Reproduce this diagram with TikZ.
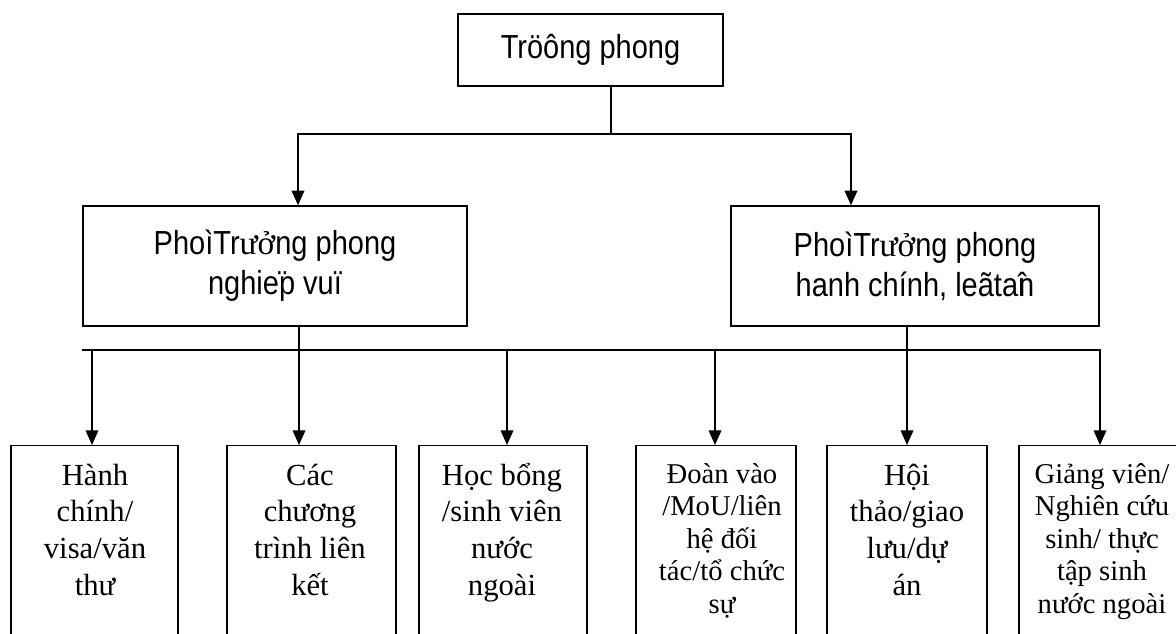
\documentclass[tikz,border=0pt]{standalone}
\usepackage{fontspec}
\setmainfont{Liberation Serif}
\newfontfamily\helv[FakeStretch=0.87]{Liberation Sans}
\usetikzlibrary{arrows.meta}
\begin{document}
\begin{tikzpicture}[x=0.75pt,y=-0.75pt,
  every node/.style={inner sep=0pt},
  ln/.style={line width=1.1pt},
  arr/.style={ln,-{Triangle[width=9.5pt,length=11pt]}},
  bx/.style={draw,line width=1.1pt,align=center,font=\helv\fontsize{25}{30}\selectfont},
  leaf/.style={draw,line width=1.1pt,anchor=north,minimum height=200pt},
  ltext/.style={anchor=base,font=\fontsize{23}{27.5}\selectfont},
  ltextsmall/.style={anchor=base,font=\fontsize{21.5}{24.4}\selectfont}]

\clip (0,0) rectangle (1176,633);

% top and middle boxes
\node[bx,minimum width=198.75pt,minimum height=54pt] (top) at (590.5,50) {Tröông phong};
\node[bx,minimum width=288pt,minimum height=90pt] (m1) at (275,266)
  {PhoìTr{\rmfamily ưở}ng phong\\nghie\rlap{\kern-1pt ¨}p vuï};
\node[bx,minimum width=276pt,minimum height=90pt] (m2) at (915,266)
  {PhoìTr{\rmfamily ưở}ng phong\\hanh chính, leãta\rlap{î}n};

% leaf boxes
\node[leaf,minimum width=125.25pt] (b1) at (94.5,445) {};
\node[leaf,minimum width=126.75pt] (b2) at (311.5,445) {};
\node[leaf,minimum width=126pt] (b3) at (503,445) {};
\node[leaf,minimum width=120pt] (b4) at (716,445) {};
\node[leaf,minimum width=120pt] (b5) at (907,445) {};
\node[leaf,minimum width=121.5pt] (b6) at (1100,445) {};

% leaf texts
\node[ltext] (t1) at (95,485) {\parbox[t]{130pt}{\centering Hành\\chính/\\visa/văn\\thư}};
\node[ltext] (t2) at (310,485) {\parbox[t]{130pt}{\centering Các\\chương\\trình liên\\kết}};
\node[ltext] (t3) at (502,485) {\parbox[t]{130pt}{\centering Học bổng\\/sinh viên\\nước\\ngoài}};
\node[ltextsmall] (t4) at (722,483) {\parbox[t]{130pt}{\centering Đoàn vào\\/MoU/liên\\hệ đối\\tác/tổ chức\\sự}};
\node[ltext] (t5) at (907,485) {\parbox[t]{130pt}{\centering Hội\\thảo/giao\\lưu/dự\\án}};
\node[ltextsmall] (t6) at (1102,483) {\parbox[t]{130pt}{\centering Giảng viên/\\Nghiên cứu\\sinh/ thực\\tập sinh\\nước ngoài}};

% columns
\coordinate (j0) at (611,134);
\coordinate (cA) at (298,0);
\coordinate (cB) at (851,0);
\coordinate (x1) at (92,0);
\coordinate (x2) at (299,0);
\coordinate (x3) at (507,0);
\coordinate (x4) at (715,0);
\coordinate (x5) at (907,0);
\coordinate (busL) at (82,350);
\coordinate (busR) at (1100,350);

% connectors
\draw[ln] (top.south -| j0) -- (j0);
\draw[arr] (j0) -| (m1.north -| cA);
\draw[arr] (j0) -| (m2.north -| cB);

\draw[arr] (busL) -- (busR) -- (b6.north -| busR);
\draw[arr] (m1.south -| x2) -- (b2.north -| x2);
\draw[arr] (m2.south -| x5) -- (b5.north -| x5);
\draw[arr] (busL -| x1) -- (b1.north -| x1);
\draw[arr] (busL -| x3) -- (b3.north -| x3);
\draw[arr] (busL -| x4) -- (b4.north -| x4);
\end{tikzpicture}
\end{document}
